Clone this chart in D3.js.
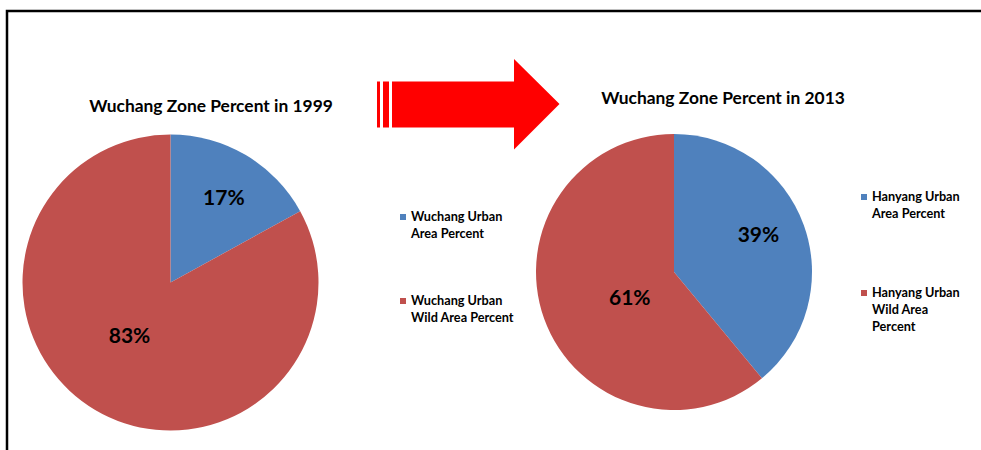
<!doctype html>
<html lang="en">
<head>
<meta charset="utf-8">
<title>Wuchang Zone Percent 1999 vs 2013</title>
<script src="https://d3js.org/d3.v7.min.js"></script>
<style>
  body { margin: 0; background: #fff; }
  text { font-family: Lato, "Open Sans", sans-serif; font-weight: bold; fill: #000; }
</style>
</head>
<body>
<div id="container"></div>
<script>
// chart data
const years = ["1999", "2013"];
const titles = ["Wuchang Zone Percent in 1999", "Wuchang Zone Percent in 2013"];
const categories = ["Urban Area", "Urban Wild Area"];
const urbanPercent = [17, 39];
const wildPercent = [83, 61];
const legendLabels = [
    [["Wuchang Urban", "Area Percent"], ["Wuchang Urban", "Wild Area Percent"]],
    [["Hanyang Urban", "Area Percent"], ["Hanyang Urban", "Wild Area", "Percent"]]
];

const width = 981;
const height = 450;
const colors = ["#4f81bd", "#c0504d"];

const svg = d3.select("#container").append("svg")
    .attr("width", width)
    .attr("height", height)
    .attr("viewBox", "0 0 " + width + " " + height);

// outer frame (bottom edge is off the picture)
svg.append("path")
    .attr("d", "M7," + height + "V11H" + width)
    .attr("fill", "none")
    .attr("stroke", "#000")
    .attr("stroke-width", 2.5);

// layout of the two charts
const charts = [
    { cx: 170.5, cy: 282.5, r: 148, titleX: 211, titleY: 112,
      legendX: 400, legendY: [221, 305],
      labels: [{ a: 32, k: 0.68 }, { a: 218, k: 0.45 }] },
    { cx: 674, cy: 272, r: 138, titleX: 723, titleY: 104,
      legendX: 861, legendY: [201, 297],
      labels: [{ a: 66, k: 0.67 }, { a: 240, k: 0.37 }] }
];

const pie = d3.pie().sort(null).value(d => d);

charts.forEach(function (c, i) {
    const values = [urbanPercent[i], wildPercent[i]];
    const arc = d3.arc().innerRadius(0).outerRadius(c.r);
    const g = svg.append("g").attr("transform", "translate(" + c.cx + "," + c.cy + ")");

    g.selectAll("path")
        .data(pie(values))
        .enter()
        .append("path")
        .attr("d", arc)
        .attr("fill", (d, j) => colors[j]);

    g.selectAll("text")
        .data(values)
        .enter()
        .append("text")
        .attr("x", (d, j) => Math.sin(c.labels[j].a * Math.PI / 180) * c.r * c.labels[j].k)
        .attr("y", (d, j) => -Math.cos(c.labels[j].a * Math.PI / 180) * c.r * c.labels[j].k)
        .attr("dy", "0.36em")
        .attr("text-anchor", "middle")
        .style("font-size", "21px")
        .text(d => d + "%");

    svg.append("text")
        .attr("x", c.titleX)
        .attr("y", c.titleY)
        .attr("text-anchor", "middle")
        .style("font-size", "17.4px")
        .text(titles[i]);

    // legend
    legendLabels[i].forEach(function (lines, j) {
        const lg = svg.append("g").attr("transform", "translate(" + c.legendX + "," + c.legendY[j] + ")");
        lg.append("rect")
            .attr("x", 0).attr("y", -7)
            .attr("width", 6).attr("height", 6)
            .attr("fill", colors[j]);
        lg.append("text")
            .style("font-size", "12.7px")
            .selectAll("tspan")
            .data(lines)
            .enter()
            .append("tspan")
            .attr("x", 11)
            .attr("y", (d, k) => k * 17)
            .text(d => d);
    });
});

// red arrow between the charts
const arrow = svg.append("g").attr("fill", "#ff0000");
arrow.append("rect").attr("x", 377).attr("y", 81.5).attr("width", 3).attr("height", 46);
arrow.append("rect").attr("x", 383).attr("y", 81.5).attr("width", 6).attr("height", 46);
arrow.append("path")
    .attr("d", "M392,81.5H514V59L559.5,104L514,149.5V127.5H392Z");
</script>
</body>
</html>
